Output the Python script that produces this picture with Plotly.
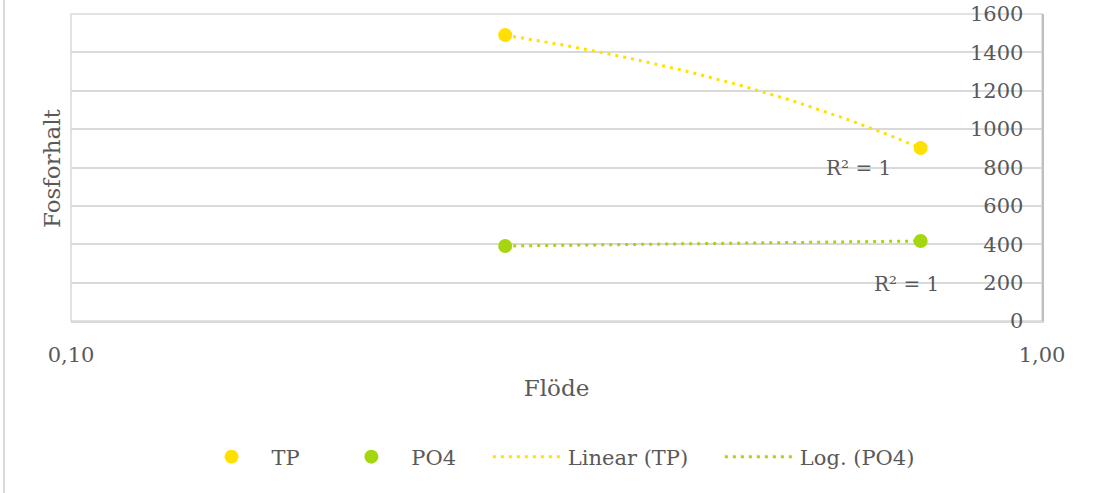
import numpy as np
import plotly.graph_objects as go

# Flow vs. phosphorus content
flow = [0.28, 0.75]
tp = [1490, 901]
po4 = [391, 417]

x_ticks = [0.1, 1.0]
y_ticks = [0, 200, 400, 600, 800, 1000, 1200, 1400, 1600]

TP_COLOR = "#FFE000"
PO4_COLOR = "#A5D610"
TEXT = "#595959"
GRID = "#D9D9D9"
FONT = "DejaVu Serif"
PAD = "\u00a0" * 4

# Trendlines: linear fit for TP, logarithmic fit for PO4
xf = np.array(flow)
xs = np.geomspace(xf.min(), xf.max(), 80)
a_lin, b_lin = np.polyfit(xf, np.array(tp), 1)
tp_fit = a_lin * xs + b_lin
a_log, b_log = np.polyfit(np.log(xf), np.array(po4), 1)
po4_fit = a_log * np.log(xs) + b_log

fig = go.Figure()
fig.add_trace(go.Scatter(x=flow, y=tp, mode="markers", name="TP" + PAD,
                         marker=dict(color=TP_COLOR, size=14)))
fig.add_trace(go.Scatter(x=flow, y=po4, mode="markers", name="PO4" + PAD,
                         marker=dict(color=PO4_COLOR, size=14)))
fig.add_trace(go.Scatter(x=xs, y=tp_fit, mode="lines", name="Linear (TP)" + PAD,
                         line=dict(color=TP_COLOR, width=3, dash="3px,5px")))
fig.add_trace(go.Scatter(x=xs, y=po4_fit, mode="lines", name="Log. (PO4)",
                         line=dict(color=PO4_COLOR, width=3, dash="3px,5px")))

fig.update_layout(
    width=1094, height=493,
    margin=dict(l=71, r=52, t=14, b=172),
    paper_bgcolor="white", plot_bgcolor="white",
    separators=", ",
    font=dict(family=FONT, color=TEXT, size=21),
    showlegend=True,
    legend=dict(orientation="h", x=0.499, xanchor="center", y=-0.443, yanchor="middle",
                itemwidth=70, font=dict(size=21, color=TEXT), traceorder="normal"),
    xaxis=dict(type="log", range=[-1, 0], tickvals=x_ticks, tickformat=".2f",
               showgrid=True, gridcolor=GRID, gridwidth=1.5,
               showline=True, linecolor=GRID, linewidth=1.5,
               ticks="outside", ticklen=14, tickcolor="rgba(0,0,0,0)",
               ticklabeloverflow="allow", zeroline=False, automargin=False,
               tickfont=dict(size=21, color=TEXT),
               title=dict(text="Flöde", font=dict(size=23, color=TEXT), standoff=14)),
    yaxis=dict(side="right", range=[0, 1600], tickvals=y_ticks,
               showgrid=True, gridcolor=GRID, gridwidth=1.5,
               showline=True, linecolor="#BFBFBF", linewidth=1.5,
               ticklabelposition="inside", ticks="inside", ticklen=20,
               ticklabeloverflow="allow", automargin=False,
               tickfont=dict(size=21, color=TEXT),
               tickcolor="rgba(0,0,0,0)", zeroline=False),
)

# Plot-area border
fig.add_shape(type="rect", xref="paper", yref="paper", x0=0, x1=1, y0=0, y1=1,
              line=dict(color=GRID, width=1.5), layer="below")

# Y-axis title on the left side
fig.add_annotation(text="Fosforhalt", xref="paper", yref="paper",
                   x=(52 - 71) / 971, y=(321 - 168) / 307, textangle=-90,
                   showarrow=False, font=dict(size=23, color=TEXT),
                   xanchor="center", yanchor="middle")

# R² labels for the trendlines
fig.add_annotation(text="R² = 1", xref="paper", yref="paper",
                   x=(858 - 71) / 971, y=(321 - 168) / 307, showarrow=False,
                   xanchor="center", yanchor="middle",
                   font=dict(size=20, color=TEXT))
fig.add_annotation(text="R² = 1", xref="paper", yref="paper",
                   x=(906 - 71) / 971, y=(321 - 284) / 307, showarrow=False,
                   xanchor="center", yanchor="middle",
                   font=dict(size=20, color=TEXT))

# Outer chart frame edge
fig.add_shape(type="line", xref="paper", yref="paper",
              x0=(4 - 71) / 971, x1=(4 - 71) / 971, y0=(321 - 493) / 307, y1=(321 + 0) / 307 + 14 / 307,
              line=dict(color=GRID, width=2))

fig.write_html("out.html")
